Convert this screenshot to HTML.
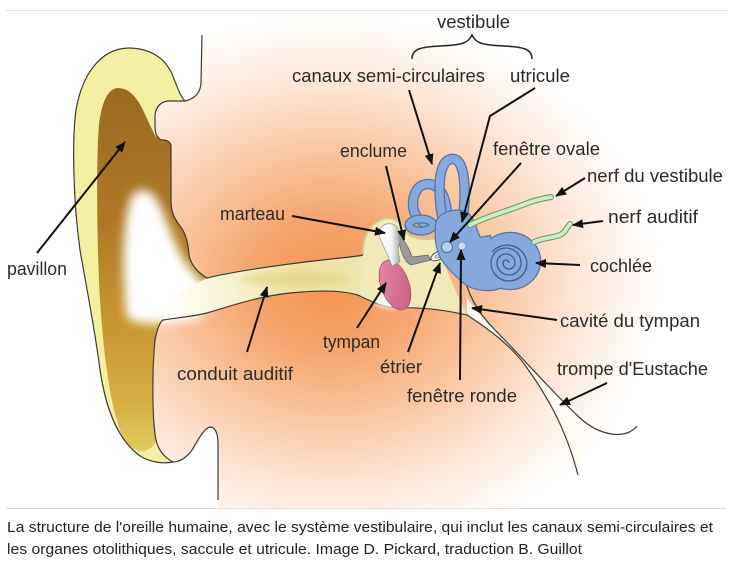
<!DOCTYPE html>
<html><head><meta charset="utf-8">
<style>
html,body{margin:0;padding:0;background:#fff;}
svg{display:block;}
</style></head><body>
<svg width="738" height="565" viewBox="0 0 738 565" xmlns="http://www.w3.org/2000/svg">
<defs>
 <radialGradient id="bg" gradientUnits="userSpaceOnUse" cx="330" cy="285" r="300" gradientTransform="translate(330 285) scale(1.1 0.9) translate(-330 -285)">
  <stop offset="0" stop-color="#f39550"/>
  <stop offset="0.25" stop-color="#f5a56d"/>
  <stop offset="0.5" stop-color="#f9c7a2"/>
  <stop offset="0.75" stop-color="#fde6d7"/>
  <stop offset="1" stop-color="#ffffff"/>
 </radialGradient>
 <linearGradient id="canal" x1="165" y1="0" x2="370" y2="0" gradientUnits="userSpaceOnUse">
  <stop offset="0" stop-color="#ffffff"/>
  <stop offset="0.3" stop-color="#f8f3d4"/>
  <stop offset="0.65" stop-color="#ede2a0"/>
  <stop offset="1" stop-color="#efe6b2"/>
 </linearGradient>
 <linearGradient id="concha" x1="0" y1="88" x2="0" y2="460" gradientUnits="userSpaceOnUse">
  <stop offset="0" stop-color="#9c6a22"/>
  <stop offset="0.35" stop-color="#ad7826"/>
  <stop offset="0.6" stop-color="#c4922e"/>
  <stop offset="0.85" stop-color="#d6b042"/>
  <stop offset="1" stop-color="#e6d066"/>
 </linearGradient>
 <linearGradient id="pink" x1="0" y1="0" x2="1" y2="1">
  <stop offset="0" stop-color="#e88aa8"/>
  <stop offset="1" stop-color="#c85a80"/>
 </linearGradient>
 <linearGradient id="mart" x1="0" y1="0" x2="1" y2="0">
  <stop offset="0" stop-color="#ffffff"/>
  <stop offset="0.6" stop-color="#f4f4f4"/>
  <stop offset="1" stop-color="#a8a8a8"/>
 </linearGradient>
 <filter id="blur5" x="-50%" y="-50%" width="200%" height="200%"><feGaussianBlur stdDeviation="5"/></filter>
 <filter id="blur3" x="-50%" y="-50%" width="200%" height="200%"><feGaussianBlur stdDeviation="3"/></filter>
 <marker id="ah" markerUnits="userSpaceOnUse" markerWidth="11" markerHeight="9" refX="10" refY="4.5" orient="auto">
  <path d="M0,0 L11,4.5 L0,9 Z" fill="#111"/>
 </marker>
</defs>

<rect x="0" y="0" width="738" height="565" fill="#fff"/>

<!-- head region -->
<path d="M202,35 L202,11 L726,11 L726,508 L218,508 L218,437 C216,430 212,426 209,428 C200,435 195,452 185,458 L172,463 L148,440 L146,300 L150,105 L185,100 C197,96 201,90 201,80 Z" fill="url(#bg)"/>
<line x1="6" y1="10.5" x2="727" y2="10.5" stroke="#e4e2d8" stroke-width="1"/>
<line x1="6" y1="508.5" x2="726" y2="508.5" stroke="#e2ded6" stroke-width="1"/>

<!-- ear -->
<path d="M185,101 C180,96 177,86 172,74 C165,58 150,48 128,48 C100,49 82,75 76,110 C72,140 73,200 80,250 C86,285 95,330 100,370 C106,410 118,440 140,456 C150,462 162,464 173,462 C165,458 158,450 156,440 C152,420 152,370 155,340 C157,330 160,322 163,320 L207,278 C197,272 191,265 189,255 C188,242 186,234 180,226 C174,218 171,212 171,200 L171,146 C171,142 167,140 162,140 C157,139 155,134 155,126 L155,115 C156,107 160,102 168,101 Z" fill="#f5efa2"/>
<path d="M100,300 C97,250 96,160 99,125 C102,98 110,88 118,88 C128,88 136,96 142,108 C147,118 151,128 156,137 L162,140 C167,140 171,142 171,146 L171,200 C171,212 174,218 180,226 C186,234 188,242 189,255 C191,265 197,272 207,278 L163,320 C160,322 157,330 155,340 C152,370 152,420 156,440 C152,452 140,455 128,445 C112,425 104,360 100,300 Z" fill="url(#concha)"/>
<path d="M127,318 C122,280 122,222 131,198 C137,187 148,188 155,197 C165,212 172,240 185,262 C195,275 205,285 210,295 L200,318 C180,323 142,328 127,318 Z" fill="#ffffff" filter="url(#blur5)"/>

<!-- canal -->
<path d="M207,278 C240,270 300,262 350,257 L365,255 L368,298 C350,290 320,290 290,293 C260,296 230,306 207,313 C190,317 175,318 163,320 L165,300 Z" fill="url(#canal)"/>
<ellipse cx="295" cy="279" rx="55" ry="7" fill="#e0d27e" opacity="0.55" filter="url(#blur3)"/>

<!-- middle ear cavity -->
<path d="M363,255 C362,240 368,224 383,219 C396,216 404,224 408,234 C416,240 428,240 440,238 L447,270 C455,290 462,305 467,315 C440,309 420,307 400,308 C385,308 372,302 360,296 Z" fill="#f1e9b8"/>
<path d="M363,255 C362,240 368,224 383,219 C396,216 404,224 408,234 C416,240 428,240 440,238" fill="none" stroke="#d8c88a" stroke-width="2"/>

<!-- eustachian tube fill -->
<path d="M467,315 C490,330 510,345 525,365 C545,393 565,425 578,475 L585,440 C590,430 584,422 580,418 C555,395 520,355 495,330 C485,320 475,310 467,298 Z" fill="#fffaf4"/>

<!-- outlines -->
<g fill="none" stroke="#3c3c36" stroke-width="1.2">
 <path d="M185,101 C180,96 177,86 172,74 C165,58 150,48 128,48 C100,49 82,75 76,110 C72,140 73,200 80,250 C86,285 95,330 100,370 C106,410 118,440 140,456 C150,462 162,464 173,462"/>
 <path d="M202,35 L201,82 C201,92 195,99 185,101"/>
 <path d="M185,101 L168,101 C160,102 156,107 155,115 L155,126 C155,134 157,139 162,140 C167,140 171,142 171,146 L171,200 C171,212 174,218 180,226 C186,234 188,242 189,255 C191,265 197,272 207,278 C240,270 300,262 350,257 C356,256 360,256 363,255"/>
 <path d="M173,462 C165,458 158,450 156,440 C152,420 152,370 155,340 C157,330 160,322 163,320 C175,318 190,317 207,313 C230,306 260,296 290,293 C320,290 345,290 360,296 C372,302 385,308 400,308 C420,307 440,309 467,315 C490,330 510,345 525,365 C545,393 565,425 578,475"/>
 <path d="M173,462 C180,462 186,458 192,450 C198,440 204,428 210,427 C216,427 218,435 218,445 L218,500"/>
 <path d="M463,270 C466,290 475,310 495,330 C520,355 555,395 580,418 C600,436 625,440 637,426"/>
</g>

<!-- ossicles / tympan -->
<ellipse cx="393" cy="301" rx="18" ry="7" fill="#ffffff" filter="url(#blur3)"/>
<ellipse cx="395" cy="285" rx="14" ry="26" transform="rotate(-20 395 285)" fill="url(#pink)" stroke="#a85070" stroke-width="0.8"/>
<path d="M398,236 C404,238 410,250 412,257 L428,255 L431,260 L411,265 C404,262 400,250 398,236 Z" fill="#9a9a9a" stroke="#666" stroke-width="0.8"/>
<path d="M380,238 C376,226 388,220 396,226 C402,232 400,242 398,250 L400,262 L392,266 C388,255 384,248 380,238 Z" fill="url(#mart)" stroke="#8a8a8a" stroke-width="0.6"/>
<ellipse cx="438" cy="256" rx="7.5" ry="4" transform="rotate(-25 438 256)" fill="#fff" stroke="#555" stroke-width="1"/>
<ellipse cx="438" cy="256" rx="3.5" ry="1.6" transform="rotate(-25 438 256)" fill="#cfcfcf" stroke="#777" stroke-width="0.6"/>

<!-- semicircular canals -->
<g fill="none" stroke-linecap="round">
 <path d="M447,218 C447,198 440,184 428,184 C415,184 411,200 414,211 C417,222 430,227 442,226" stroke="#5373ab" stroke-width="10.5"/>
 <path d="M447,218 C447,198 440,184 428,184 C415,184 411,200 414,211 C417,222 430,227 442,226" stroke="#86a8da" stroke-width="8"/>
 <ellipse cx="421" cy="225" rx="12" ry="6" stroke="#5373ab" stroke-width="9"/>
 <ellipse cx="421" cy="225" rx="12" ry="6" stroke="#86a8da" stroke-width="6.5"/>
 <path d="M444,225 C438,200 436,162 451,159 C466,157 466,190 463,220" stroke="#5373ab" stroke-width="10.5"/>
 <path d="M444,225 C438,200 436,162 451,159 C466,157 466,190 463,220" stroke="#86a8da" stroke-width="8"/>
</g>
<!-- vestibule + cochlea -->
<path d="M436,226 C436,214 452,208 466,212 C474,218 476,230 480,238 L490,236 L500,288 C488,292 472,290 463,282 C452,272 441,262 438,250 C435,242 436,234 436,226 Z" fill="none" stroke="#5373ab" stroke-width="2.4"/>
<ellipse cx="510" cy="261" rx="30" ry="28" fill="none" stroke="#5373ab" stroke-width="2.4"/>
<path d="M436,226 C436,214 452,208 466,212 C474,218 476,230 480,238 L490,236 L500,288 C488,292 472,290 463,282 C452,272 441,262 438,250 C435,242 436,234 436,226 Z" fill="#86a8da"/>
<ellipse cx="510" cy="261" rx="30" ry="28" fill="#86a8da"/>
<path d="M509,263 A3,3 0 0 0 503,263 A6,6 0 0 0 515,263 A9,9 0 0 0 497,263 A12,12 0 0 0 521,263 A15,15 0 0 0 491,263 A18,18 0 0 0 527,263 A20,20 0 0 0 492,252" fill="none" stroke="#3d5d98" stroke-width="1.3"/>
<circle cx="447" cy="247" r="5.5" fill="#b8d0f0" stroke="#4a6aa5" stroke-width="1"/>
<circle cx="462" cy="246" r="4" fill="#c8dcf5" stroke="#6a88bb" stroke-width="0.8"/>

<!-- nerves -->
<g fill="none" stroke-linecap="round">
 <path d="M470,225 C490,215 505,212 525,204 C535,200 545,198 551,197" stroke="#6a9a70" stroke-width="6"/>
 <path d="M470,225 C490,215 505,212 525,204 C535,200 545,198 551,197" stroke="#cdeec4" stroke-width="3.8"/>
 <path d="M534,242 C542,238 552,238 560,235 C566,232 566,228 570,224" stroke="#6a9a70" stroke-width="6"/>
 <path d="M534,242 C542,238 552,238 560,235 C566,232 566,228 570,224" stroke="#cdeec4" stroke-width="3.8"/>
</g>

<!-- arrows -->
<g fill="none" stroke="#111" stroke-width="2" marker-end="url(#ah)">
 <line x1="37" y1="253" x2="125" y2="142"/>
 <line x1="247" y1="352" x2="267" y2="287"/>
 <line x1="292" y1="216" x2="385" y2="233"/>
 <line x1="386" y1="166" x2="404" y2="240"/>
 <line x1="409" y1="90" x2="432" y2="164"/>
 <polyline points="535,88 490,116 462,222"/>
 <line x1="521" y1="163" x2="450" y2="242"/>
 <line x1="585" y1="178" x2="556" y2="196"/>
 <line x1="603" y1="221" x2="573" y2="225"/>
 <line x1="580" y1="265" x2="536" y2="263"/>
 <line x1="557" y1="320" x2="472" y2="308"/>
 <line x1="607" y1="383" x2="560" y2="405"/>
 <line x1="460" y1="380" x2="461" y2="250"/>
 <line x1="408" y1="352" x2="440" y2="263"/>
 <line x1="357" y1="328" x2="386" y2="283"/>
</g>

<!-- brace -->
<path d="M412,59 C412,49 420,47 440,46 C460,45 468,44 472,35 C476,44 484,45 504,46 C524,47 532,49 532,59" fill="none" stroke="#222" stroke-width="1.5"/>

<!-- labels -->
<g font-family="'Liberation Sans', Arial, sans-serif" font-size="18.5" fill="#2b2b2b">
 <text x="437" y="28" textLength="73" lengthAdjust="spacingAndGlyphs">vestibule</text>
 <text x="292" y="82" textLength="193" lengthAdjust="spacingAndGlyphs">canaux semi-circulaires</text>
 <text x="510" y="82" textLength="60" lengthAdjust="spacingAndGlyphs">utricule</text>
 <text x="340" y="157" textLength="67" lengthAdjust="spacingAndGlyphs">enclume</text>
 <text x="493" y="155" textLength="107" lengthAdjust="spacingAndGlyphs">fenêtre ovale</text>
 <text x="220" y="220" textLength="65" lengthAdjust="spacingAndGlyphs">marteau</text>
 <text x="587" y="182" textLength="136" lengthAdjust="spacingAndGlyphs">nerf du vestibule</text>
 <text x="608" y="223" textLength="90" lengthAdjust="spacingAndGlyphs">nerf auditif</text>
 <text x="590" y="272" textLength="62" lengthAdjust="spacingAndGlyphs">cochlée</text>
 <text x="7" y="275" textLength="60" lengthAdjust="spacingAndGlyphs">pavillon</text>
 <text x="177" y="380" textLength="116" lengthAdjust="spacingAndGlyphs">conduit auditif</text>
 <text x="323" y="348" textLength="57" lengthAdjust="spacingAndGlyphs">tympan</text>
 <text x="380" y="373" textLength="42" lengthAdjust="spacingAndGlyphs">étrier</text>
 <text x="407" y="402" textLength="110" lengthAdjust="spacingAndGlyphs">fenêtre ronde</text>
 <text x="560" y="327" textLength="140" lengthAdjust="spacingAndGlyphs">cavité du tympan</text>
 <text x="557" y="375" textLength="151" lengthAdjust="spacingAndGlyphs">trompe d'Eustache</text>
</g>

<!-- caption -->
<g font-family="'Liberation Sans', Arial, sans-serif" font-size="15" fill="#222">
 <text x="7" y="532" textLength="706" lengthAdjust="spacingAndGlyphs">La structure de l'oreille humaine, avec le système vestibulaire, qui inclut les canaux semi-circulaires et</text>
 <text x="7" y="554" textLength="575" lengthAdjust="spacingAndGlyphs">les organes otolithiques, saccule et utricule. Image D. Pickard, traduction B. Guillot</text>
</g>
</svg>
</body></html>
